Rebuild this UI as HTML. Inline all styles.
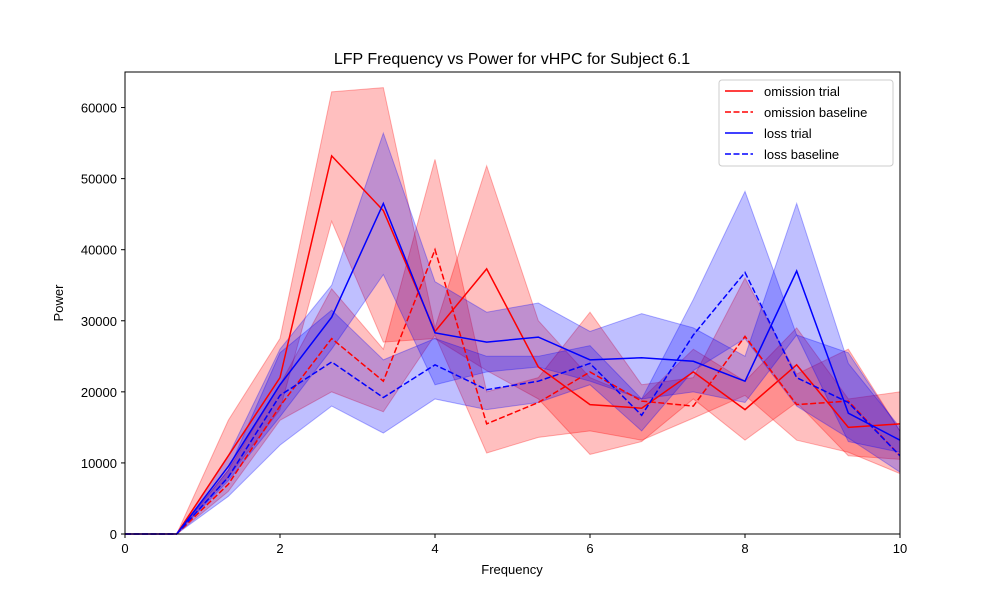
<!DOCTYPE html>
<html><head><meta charset="utf-8"><style>
body{margin:0;background:#fff;font-family:"Liberation Sans",sans-serif}
</style></head><body>
<svg id="chart" width="1000" height="600" xmlns="http://www.w3.org/2000/svg" font-family="Liberation Sans, sans-serif">
<rect width="1000" height="600" fill="#fff"/>
<g id="bands"></g><g id="lines"></g><g id="axes"></g>
</svg>
<script>
const xs=[0,2/3,4/3,2,8/3,10/3,4,14/3,16/3,6,20/3,22/3,8,26/3,28/3,10];
const omTrial=[0,0,11000,22000,53200,45500,28500,37300,23500,18200,17700,22800,17500,23800,15000,15500];
const omTrialUp=[0,0,16000,27500,62200,62800,29000,51800,30000,22000,19000,26000,21500,29000,19000,20000];
const omTrialLo=[0,0,8000,17500,44000,27000,27500,23000,19000,11200,13000,19000,13200,18500,11000,10500];
const omBase=[0,0,7000,18000,27500,21500,40000,15500,18500,22800,18700,18000,27800,18200,18700,11000];
const omBaseUp=[0,0,9000,21000,34500,26000,52700,20000,22000,31200,21000,22000,36000,22500,26000,14500];
const omBaseLo=[0,0,6000,16000,20000,17200,28000,11400,13600,14500,13200,16300,19500,13200,11500,8500];
const lossTrial=[0,0,9500,21000,30500,46500,28300,27000,27700,24500,24800,24300,21500,37000,17000,13200];
const lossTrialUp=[0,0,11000,26000,35000,56400,35500,31200,32500,28500,31000,29000,25000,46500,24000,15000];
const lossTrialLo=[0,0,7500,16500,26000,36500,21000,22800,23500,21500,19000,20000,18500,28000,13000,11500];
const lossBase=[0,0,8000,19500,24200,19200,23800,20300,21500,24000,16700,28000,36800,22000,18500,11000];
const lossBaseUp=[0,0,9000,25500,31500,24500,27500,25000,25000,26500,19000,33000,48200,28000,25500,14500];
const lossBaseLo=[0,0,5300,12500,18000,14200,19000,17500,18500,21000,14500,23000,27500,18000,13500,8700];
const xTicks=[0,2,4,6,8,10];
const yTicks=[0,10000,20000,30000,40000,50000,60000];
const X=v=>125+v/10*775, Y=v=>534-v/65000*462;
const NS="http://www.w3.org/2000/svg";
function mk(t,a,p){const e=document.createElementNS(NS,t);for(const k in a)e.setAttribute(k,a[k]);p.appendChild(e);return e;}
const B=document.getElementById('bands'),L=document.getElementById('lines'),A=document.getElementById('axes');
function band(up,lo,c,name){let d=xs.map((x,i)=>(i?'L':'M')+X(x)+','+Y(up[i])).join('')+xs.map((x,i)=>'L'+X(xs[15-i])+','+Y(lo[15-i])).join('')+'Z';
const e=mk('path',{d,fill:c,'fill-opacity':0.25,stroke:c,'stroke-opacity':0.3},B);

}
function line(v,c,dash,name){const e=mk('polyline',{points:xs.map((x,i)=>X(x)+','+Y(v[i])).join(' '),fill:'none',stroke:c,'stroke-width':1.5,'stroke-dasharray':dash?'6,2.5':'none'},L);

}
band(omTrialUp,omTrialLo,'red','omission-trial-band');
band(omBaseUp,omBaseLo,'red','omission-baseline-band');
band(lossTrialUp,lossTrialLo,'blue','loss-trial-band');
band(lossBaseUp,lossBaseLo,'blue','loss-baseline-band');
line(omTrial,'red',0,'omission-trial-line');
line(omBase,'red',1,'omission-baseline-line');
line(lossTrial,'blue',0,'loss-trial-line');
line(lossBase,'blue',1,'loss-baseline-line');
mk('rect',{x:125,y:72,width:775,height:462,fill:'none',stroke:'#000','stroke-width':1},A);
xTicks.forEach(t=>{mk('line',{x1:X(t),x2:X(t),y1:534,y2:538,stroke:'#000'},A);const e=mk('text',{x:X(t),y:553,'text-anchor':'middle','font-size':13},A);e.textContent=t;

});
yTicks.forEach(t=>{mk('line',{x1:121,x2:125,y1:Y(t),y2:Y(t),stroke:'#000'},A);const e=mk('text',{x:117,y:Y(t)+5,'text-anchor':'end','font-size':13},A);e.textContent=t;

});
let t=mk('text',{x:512,y:64,'text-anchor':'middle','font-size':16},A);t.textContent='LFP Frequency vs Power for vHPC for Subject 6.1';


t=mk('text',{x:512,y:574,'text-anchor':'middle','font-size':13},A);t.textContent='Frequency';


t=mk('text',{x:63,y:303,'text-anchor':'middle','font-size':13,transform:'rotate(-90 63 303)'},A);t.textContent='Power';


const lg=mk('g',{},A);


mk('rect',{x:719,y:80,width:174,height:86,rx:3,fill:'#fff','fill-opacity':0.8,stroke:'#ccc'},lg);
[['omission trial','red',0],['omission baseline','red',1],['loss trial','blue',0],['loss baseline','blue',1]].forEach((r,i)=>{const y=91+i*21;
mk('line',{x1:725,x2:753,y1:y,y2:y,stroke:r[1],'stroke-width':1.5,'stroke-dasharray':r[2]?'6,2.5':'none'},lg);
const e=mk('text',{x:764,y:y+5,'font-size':13},lg);e.textContent=r[0];

});
</script>
</body></html>
